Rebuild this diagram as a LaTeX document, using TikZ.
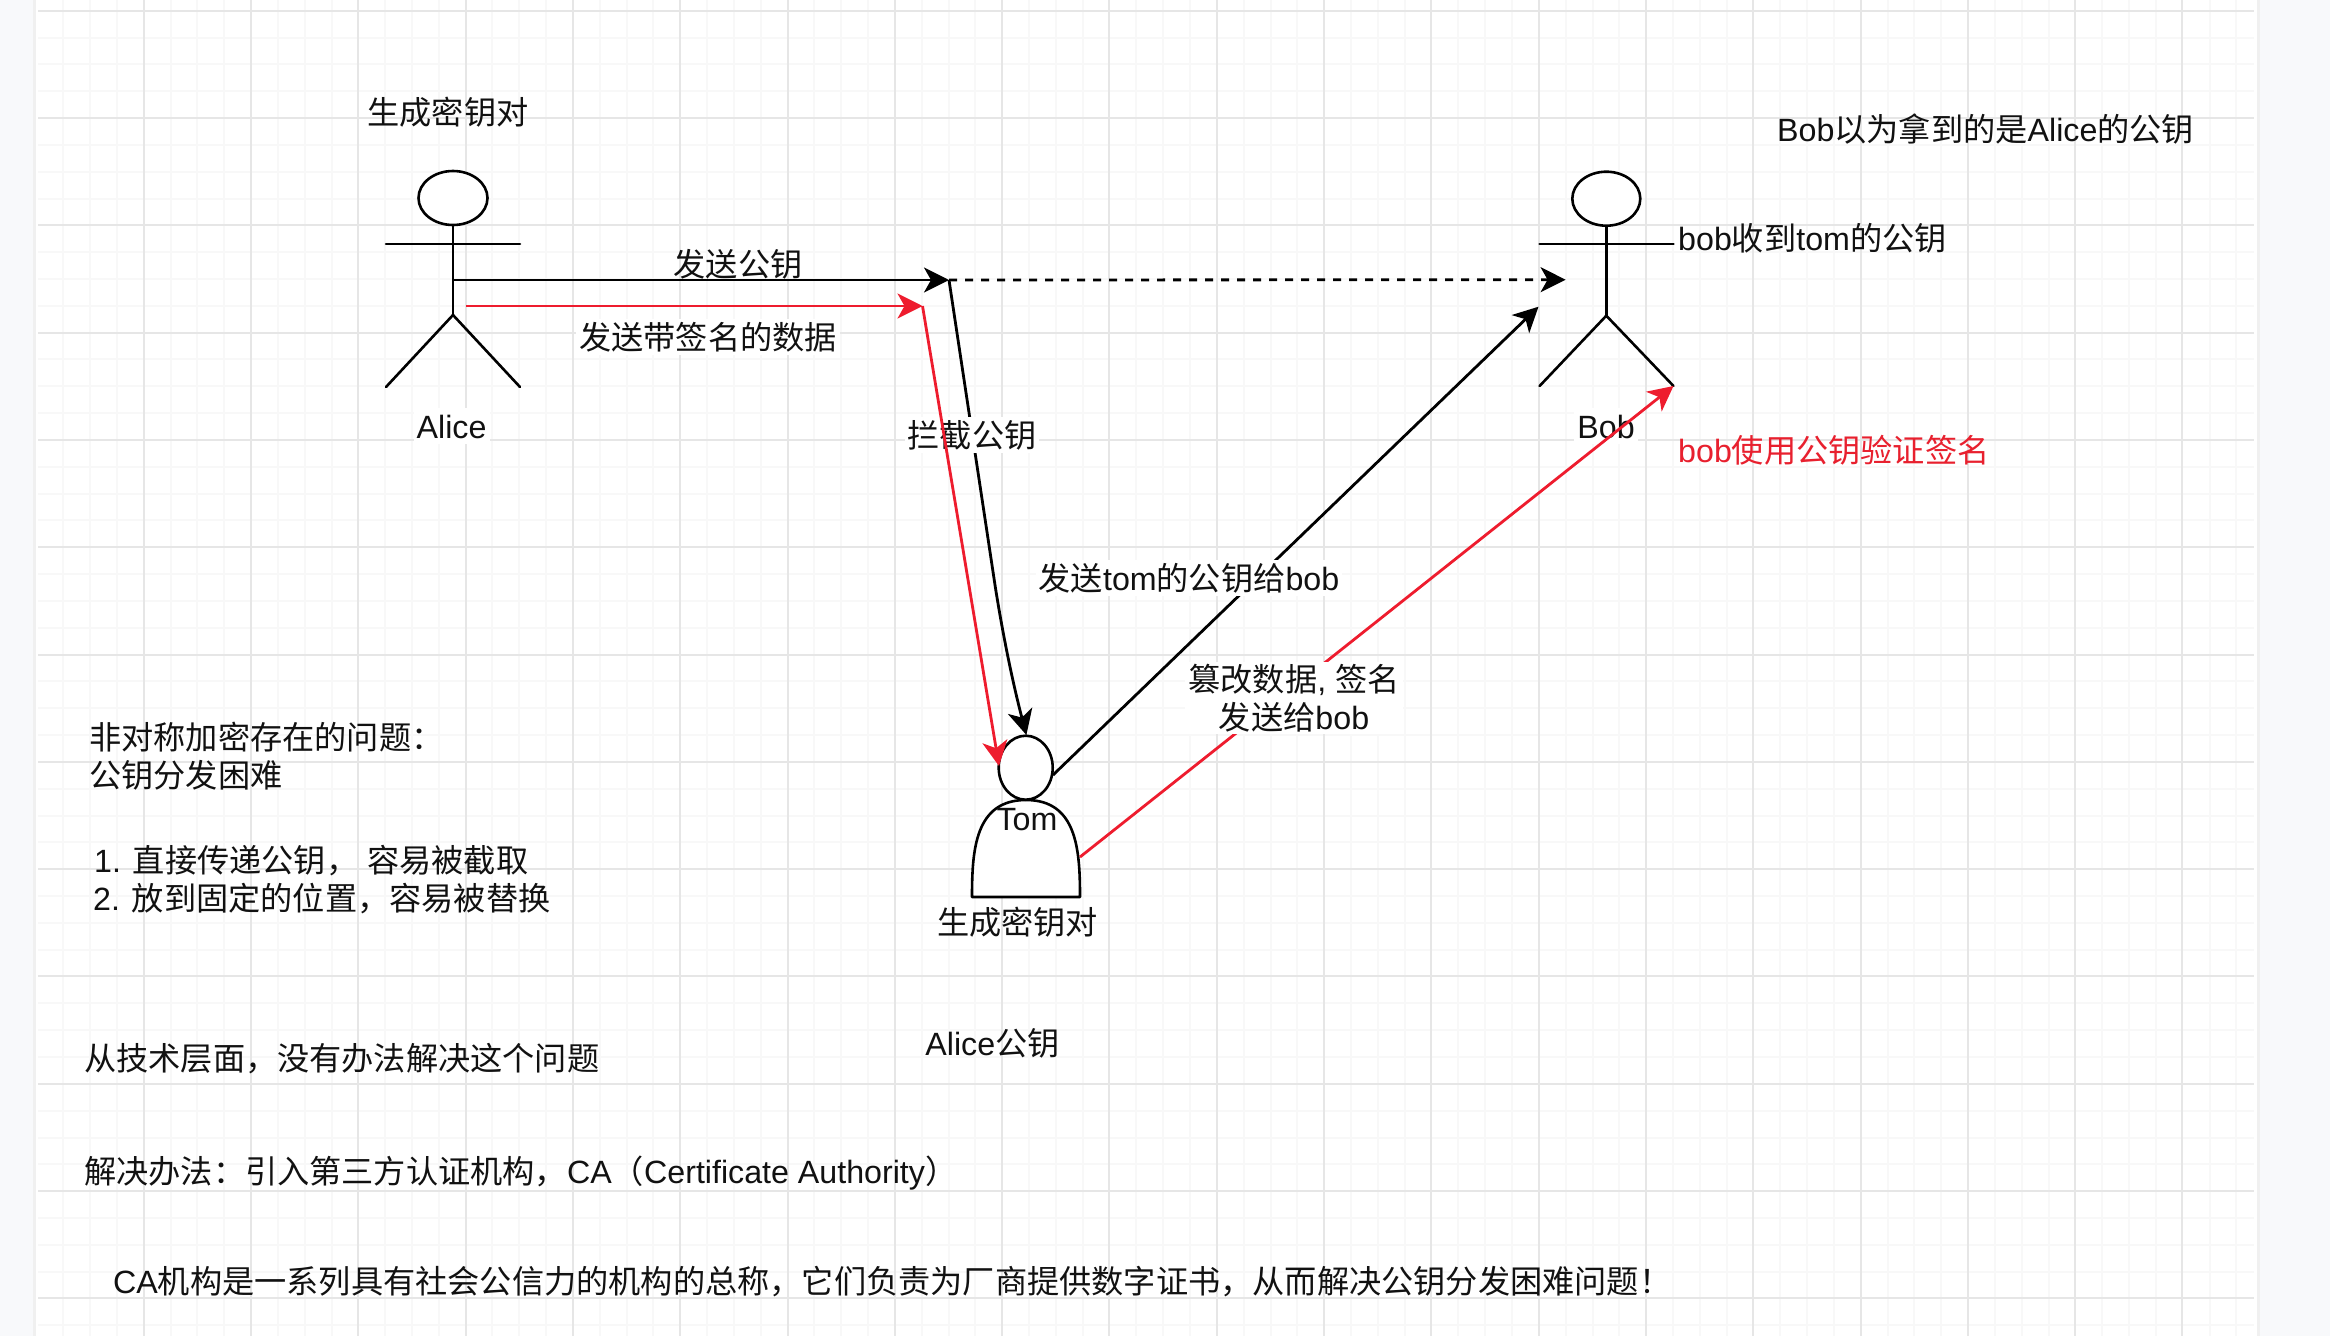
\documentclass[tikz,border=0pt]{standalone}
\usepackage{fontspec}
\setmainfont{Liberation Sans}
\newfontfamily\cjkfont{Noto Sans CJK SC}
\usetikzlibrary{arrows.meta,shapes.geometric}
\newcommand{\cj}[1]{{\cjkfont #1}}
\definecolor{pagebg}{HTML}{F8F9FB}
\definecolor{gridmajor}{HTML}{E6E6E6}
\definecolor{gridminor}{HTML}{F8F8F8}
\definecolor{redline}{HTML}{EE1C2E}
\definecolor{redtext}{HTML}{E8202E}
\definecolor{ink}{HTML}{111111}
\tikzset{
  gridmin/.style={draw=gridminor,line width=2pt},
  gridmaj/.style={draw=gridmajor,line width=2pt},
  actorline/.style={draw=black,line width=2.6pt,line cap=round},
  head/.style={ellipse,draw=black,line width=2.6pt,fill=white,inner sep=0pt},
  blackarrow/.style={draw=black,line width=2.8pt,-{Stealth[length=25pt,width=25pt,inset=7pt]}},
  redarrow/.style={draw=redline,line width=2.8pt,-{Stealth[length=25pt,width=25pt,inset=7pt]}},
  basetxt/.style={font=\fontsize{32.2pt}{38pt}\selectfont,text=ink,inner sep=0pt},
  txt/.style={basetxt,text height=29pt,text depth=5pt},
  lbl/.style={txt,fill=white,inner xsep=3pt,inner ysep=1pt},
}
\begin{document}
\begin{tikzpicture}[x=1pt,y=-1pt]
\useasboundingbox (0,0) rectangle (2330,1336);
\fill[pagebg] (0,0) rectangle (2330,1336);
\fill[black!6] (33,0) rectangle (36,1336);
\fill[black!6] (2257,0) rectangle (2260,1336);
\fill[white] (36,0) rectangle (2257,1336);
% grid
\foreach \i in {0,...,81}{
  \pgfmathsetmacro{\xx}{63.2+26.83*\i}
  \pgfmathparse{int(mod(\i+1,4))}
  \ifnum\pgfmathresult=0\relax\else
    \draw[gridmin] (\xx,0) -- (\xx,1336);
  \fi
}
\foreach \i in {0,...,49}{
  \pgfmathsetmacro{\yy}{10.7+26.83*\i}
  \pgfmathparse{int(mod(\i,4))}
  \ifnum\pgfmathresult=0\relax\else
    \draw[gridmin] (38,\yy) -- (2254,\yy);
  \fi
}
\foreach \i in {0,...,19}{
  \pgfmathsetmacro{\xx}{143.7+107.3*\i}
  \draw[gridmaj] (\xx,0) -- (\xx,1336);
}
\foreach \i in {0,...,12}{
  \pgfmathsetmacro{\yy}{10.7+107.3*\i}
  \draw[gridmaj] (38,\yy) -- (2254,\yy);
}
% named points
\coordinate (aliceArmL) at (386,244);
\coordinate (aliceArmR) at (520,244);
\coordinate (aliceHip) at (453,315);
\coordinate (aliceFootL) at (386,387);
\coordinate (aliceFootR) at (520,387);
\coordinate (aliceWaist) at (453,280);
\coordinate (aliceRed) at (466,306);
\coordinate (relay) at (949,280);
\coordinate (relayRed) at (922.5,306);
\coordinate (bend) at (995,585);
\coordinate (tomTop) at (1026.4,735);
\coordinate (tomRedIn) at (999,766);
\coordinate (tomBlackOut) at (1053,775);
\coordinate (tomRedOut) at (1080,857);
\coordinate (bobArmL) at (1539.6,244);
\coordinate (bobArmR) at (1673.5,244);
\coordinate (bobHip) at (1606.3,315.7);
\coordinate (bobFootL) at (1539.6,386);
\coordinate (bobFootR) at (1673.5,386);
\coordinate (bobDash) at (1565.6,279.7);
\coordinate (bobBlackIn) at (1538.5,306.7);
% Alice
\node[head,minimum width=69pt,minimum height=54pt] (aliceHead) at (453,198) {};
\draw[actorline] (aliceHead.south) -- (aliceHip);
\draw[actorline] (aliceArmL) -- (aliceArmR);
\draw[actorline] (aliceFootL) -- (aliceHip) -- (aliceFootR);
% Bob
\node[head,minimum width=68pt,minimum height=54pt] (bobHead) at (1606.3,198.7) {};
\draw[actorline] (bobHead.south) -- (bobHip);
\draw[actorline] (bobArmL) -- (bobArmR);
\draw[actorline] (bobFootL) -- (bobHip) -- (bobFootR);
% Tom
\draw[actorline,line join=round,fill=white] (972,897) .. controls (972,850) and (975,800) .. (1026,800) .. controls (1077,800) and (1080,850) .. (1080,897) -- cycle;
\node[head,minimum width=54pt,minimum height=64pt] (tomHead) at (1025.7,767.7) {};
% black connectors
\draw[blackarrow] (aliceWaist) -- (relay);
\draw[blackarrow,dash pattern=on 8pt off 8pt] (relay) -- (bobDash);
\draw[blackarrow] (relay) -- (bend) .. controls (1002,630) and (1012,680) .. (tomTop);
\draw[blackarrow] (tomBlackOut) -- (bobBlackIn);
% labels under the red lines
\node[lbl] (lblIntercept) at (972,435) {\cj{拦截公钥}};
\node[lbl] (lblTomKey) at (1189,578) {\cj{发送}tom\cj{的公钥给}bob};
\node[lbl] (lblAlice) at (451.6,426) {Alice};
\node[lbl] (lblBob) at (1606,426) {Bob};
\node[lbl] (lblSendSigned) at (708,337) {\cj{发送带签名的数据}};
\node[txt] (lblSendKey) at (738,264) {\cj{发送公钥}};
% red connectors
\draw[redarrow] (aliceRed) -- (relayRed);
\draw[redarrow] (relayRed) -- (tomRedIn);
\draw[redarrow] (tomRedOut) -- (bobFootR);
\node[basetxt,align=center,fill=white,inner xsep=3pt,inner ysep=2pt] (lblTamper) at (1294,698) {\cj{篡改数据}, \cj{签名}\\\cj{发送给}bob};
% free texts
\node[txt] (lblTom) at (1027,818) {Tom};
\node[txt] (genA) at (448,112) {\cj{生成密钥对}};
\node[txt] (genT) at (1017.5,922) {\cj{生成密钥对}};
\node[txt] (aliceKey) at (992.5,1043) {Alice\cj{公钥}};
\node[txt,anchor=west] (bobThinks) at (1777,129) {Bob\cj{以为拿到的是}Alice\cj{的公钥}};
\node[txt,anchor=west] (bobGets) at (1678,238) {bob\cj{收到}tom\cj{的公钥}};
\node[txt,anchor=west,text=redtext] (bobVerify) at (1678,450) {bob\cj{使用公钥验证签名}};
\node[txt,anchor=west] (prob1) at (89,737) {\cj{非对称加密存在的问题：}};
\node[txt,anchor=west] (prob2) at (89,775) {\cj{公钥分发困难}};
\node[txt,anchor=west] (item1) at (94,860) {1. \cj{直接传递公钥，} \cj{容易被截取}};
\node[txt,anchor=west] (item2) at (93,898) {2. \cj{放到固定的位置，容易被替换}};
\node[txt,anchor=west] (tech) at (84,1058) {\cj{从技术层面，没有办法解决这个问题}};
\node[txt,anchor=west] (solve) at (84,1171) {\cj{解决办法：引入第三方认证机构，}CA\cj{（}Certificate Authority\cj{）}};
\node[txt,anchor=west] (caDesc) at (113,1281) {CA\cj{机构是一系列具有社会公信力的机构的总称，它们负责为厂商提供数字证书，从而解决公钥分发困难问题！}};
\end{tikzpicture}
\end{document}
